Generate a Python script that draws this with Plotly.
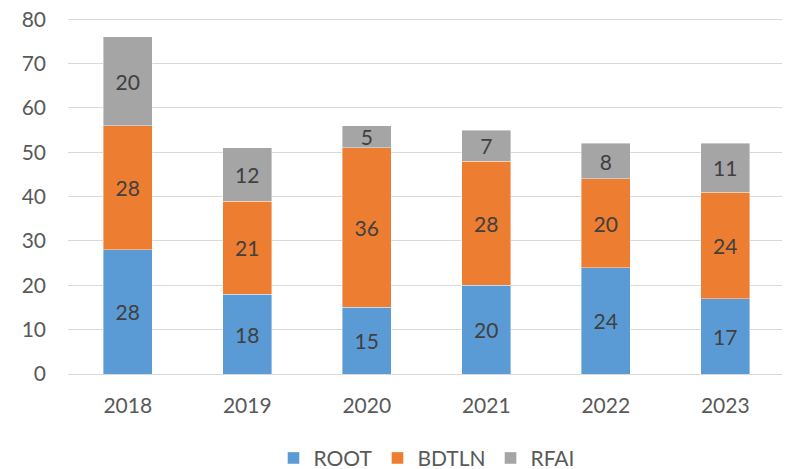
import plotly.graph_objects as go

years = ["2018", "2019", "2020", "2021", "2022", "2023"]
root = [28, 18, 15, 20, 24, 17]
bdtln = [28, 21, 36, 28, 20, 24]
rfai = [20, 12, 5, 7, 8, 11]
y_ticks = [0, 10, 20, 30, 40, 50, 60, 70, 80]

series = [("ROOT", root, "#5B9BD5"), ("BDTLN", bdtln, "#ED7D31"), ("RFAI", rfai, "#A5A5A5")]

FONT = "Lato, 'Open Sans', sans-serif"

fig = go.Figure()
for name, vals, col in series:
    fig.add_trace(go.Bar(
        x=years, y=vals, name=name, text=vals, textposition="inside",
        insidetextanchor="middle", constraintext="none", textangle=0,
        textfont=dict(color="#404040", size=21, family=FONT),
        marker=dict(color=col, line=dict(color="rgba(255,255,255,0.5)", width=0.8)),
    ))

# page body has an 8px margin, so the figure is a bit smaller than the window
fig.update_layout(
    barmode="stack", bargap=0.59,
    width=782, height=461,
    margin=dict(l=60, r=5, t=9, b=95, autoexpand=False),
    paper_bgcolor="white", plot_bgcolor="white",
    font=dict(family=FONT, color="#595959", size=21),
    showlegend=True,
    legend=dict(orientation="h", x=0.5, xanchor="center", y=-0.236, yanchor="middle",
                font=dict(size=21, color="#595959"), traceorder="normal",
                itemwidth=30, tracegroupgap=0),
)
# top of range a little above 80 so the 80 gridline is not dropped at the edge
fig.update_yaxes(range=[0, 80.5], tickmode="array", tickvals=y_ticks,
                 showgrid=True, gridcolor="#D9D9D9", gridwidth=1, ticklabeloverflow="allow",
                 zeroline=False, showline=False, ticks="", ticklabelstandoff=21, automargin=False)
fig.update_xaxes(showline=True, linecolor="#D9D9D9", linewidth=1, ticks="", ticklabelstandoff=13,
                 automargin=False)

fig.write_html("out.html")
